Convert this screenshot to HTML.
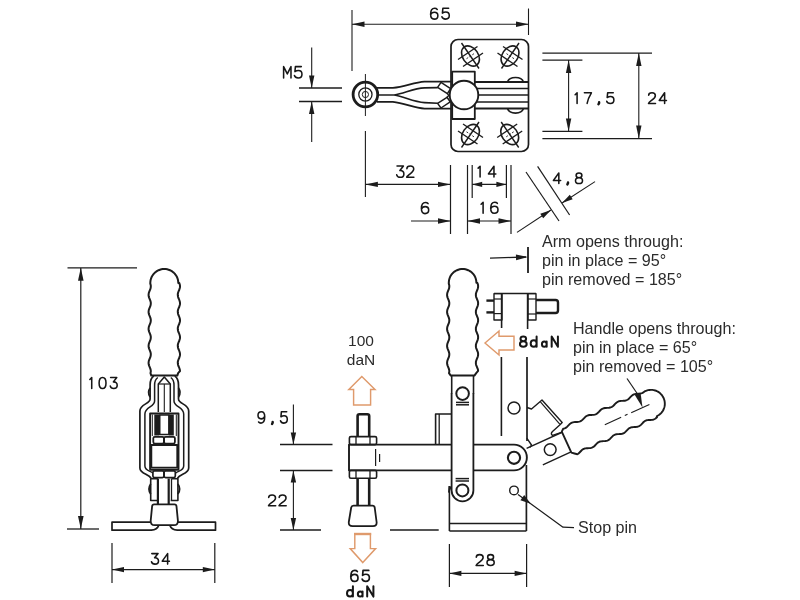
<!DOCTYPE html>
<html><head><meta charset="utf-8"><title>Clamp drawing</title>
<style>
html,body{margin:0;padding:0;background:#fff;}
body{width:800px;height:600px;overflow:hidden;position:relative;font-family:"Liberation Sans",sans-serif;}
svg{position:absolute;left:0;top:0;display:block;filter:blur(0.45px);}
svg g.or path,svg g.or line{stroke:#df9a6c;stroke-linejoin:miter;}
svg text{font-family:"Liberation Sans",sans-serif;fill:#222;stroke:none;}
svg path.pt{stroke:#161616;stroke-linecap:round;stroke-linejoin:round;fill:none;}
.note{position:absolute;font-family:"Liberation Sans",sans-serif;font-size:16.1px;line-height:19px;color:#2b2b2b;white-space:nowrap;letter-spacing:0px;will-change:transform;}
</style></head><body>
<svg width="800" height="600" viewBox="0 0 800 600" fill="none" stroke="#1c1c1c" stroke-linecap="butt" stroke-linejoin="round">
<g id="top">
<line x1="352.0" y1="10.0" x2="352.0" y2="71.0" stroke-width="1.1" />
<line x1="528.5" y1="8.5" x2="528.5" y2="35.0" stroke-width="1.1" />
<line x1="352.0" y1="24.2" x2="528.5" y2="24.2" stroke-width="1.1" />
<polygon points="352.0,24.2 364.5,21.5 364.5,26.9" fill="#1c1c1c" stroke="none"/>
<polygon points="528.5,24.2 516.0,26.9 516.0,21.5" fill="#1c1c1c" stroke="none"/>
<path class="pt" d="M437.24 9.38C436.60 8.62 435.64 8.30 434.68 8.30C431.80 8.30 430.60 10.89 430.60 14.24C430.60 17.26 431.80 19.10 434.20 19.10C436.44 19.10 437.88 17.70 437.88 15.64C437.88 13.59 436.44 12.30 434.36 12.30C432.44 12.30 431.16 13.27 430.60 14.78 M448.64 8.30L442.88 8.30L442.40 13.16C443.52 12.40 444.64 12.08 445.76 12.08C448.00 12.08 449.28 13.48 449.28 15.54C449.28 17.70 447.84 19.10 445.60 19.10C443.60 19.10 442.32 18.13 441.92 16.83" stroke-width="1.55"/>
<line x1="311.7" y1="47.5" x2="311.7" y2="88.0" stroke-width="1.1" />
<polygon points="311.7,88.0 309.0,75.5 314.4,75.5" fill="#1c1c1c" stroke="none"/>
<line x1="311.7" y1="101.5" x2="311.7" y2="142.0" stroke-width="1.1" />
<polygon points="311.7,101.5 314.4,114.0 309.0,114.0" fill="#1c1c1c" stroke="none"/>
<line x1="299.0" y1="88.0" x2="342.0" y2="88.0" stroke-width="1.3" />
<line x1="299.0" y1="101.5" x2="342.0" y2="101.5" stroke-width="1.3" />
<path class="pt" d="M283.61 77.90L283.61 66.60L287.30 73.95L290.99 66.60L290.99 77.90 M301.32 66.60L295.41 66.60L294.92 71.69C296.07 70.89 297.22 70.56 298.36 70.56C300.66 70.56 301.97 72.02 301.97 74.17C301.97 76.43 300.50 77.90 298.20 77.90C296.15 77.90 294.84 76.88 294.43 75.53" stroke-width="1.55"/>
<circle cx="365.4" cy="94.5" r="12.3" stroke-width="2.8" fill="none"/>
<circle cx="365.4" cy="94.5" r="6.6" stroke-width="1.3" fill="none"/>
<circle cx="365.4" cy="94.5" r="3.1" stroke-width="1.0" fill="none"/>
<line x1="365.4" y1="74.0" x2="365.4" y2="116.0" stroke-width="1.0" />
<line x1="365.4" y1="131.0" x2="365.4" y2="197.0" stroke-width="1.1" />
<path d="M377,87.9 L392.9,87.9 C405,86.8 414,82.2 424.5,81.6 L451.3,81.6" stroke-width="1.7" fill="none" />
<path d="M377,101.9 L392.9,101.9 C405,103.2 414,108 424.5,108.6 L451.3,108.6" stroke-width="1.9" fill="none" />
<line x1="377.0" y1="95.0" x2="394.3" y2="95.0" stroke-width="1.5" />
<path d="M394.3,95 C405,93 414,88.3 424.5,87.9 L437.6,87.6" stroke-width="1.6" fill="none" />
<path d="M394.3,95 C405,97 414,102.2 424.5,102.6 L437.6,103.2" stroke-width="1.6" fill="none" />
<path d="M437.6,87.4 L441,82.4 L450.6,88.6 L447.4,93.6 Z" stroke-width="1.5" fill="none" />
<path d="M437.6,103.4 L441,108 L450.2,101.8 L447,97.3 Z" stroke-width="1.5" fill="none" />
<path d="M447.4,93.6 L448.8,95.4 L447,97.3" stroke-width="1.4" fill="none" />
<rect x="451.0" y="39.5" width="77.5" height="112.0" rx="7" stroke-width="1.7" fill="none"/>
<rect x="452.2" y="71.6" width="22.6" height="47.4" rx="0" stroke-width="1.8" fill="none"/>
<line x1="474.0" y1="82.0" x2="528.0" y2="82.0" stroke-width="2.0" />
<line x1="474.0" y1="88.5" x2="528.0" y2="88.5" stroke-width="1.7" />
<line x1="474.0" y1="95.0" x2="528.0" y2="95.0" stroke-width="1.7" />
<line x1="474.0" y1="102.0" x2="528.0" y2="102.0" stroke-width="1.7" />
<line x1="474.0" y1="108.6" x2="528.0" y2="108.6" stroke-width="2.0" />
<path d="M507.5,82 C509.5,76 521.5,76 523.5,82" stroke-width="1.6" fill="none" />
<path d="M507.5,108.6 C509.5,114.6 521.5,114.6 523.5,108.6" stroke-width="1.6" fill="none" />
<circle cx="464.0" cy="95.0" r="14.3" stroke-width="1.9" fill="#fff"/>
<g transform="translate(470.5,56) scale(1,1)">
<ellipse cx="0" cy="0" rx="11" ry="7.8" transform="rotate(55.5)" stroke-width="1.6" fill="none"/>
<line x1="-9.0" y1="-13.0" x2="8.5" y2="12.5" stroke-width="1.4" />
<line x1="-12.5" y1="3.5" x2="7.0" y2="-9.5" stroke-width="1.4" />
<line x1="-7.5" y1="10.5" x2="12.5" y2="-3.0" stroke-width="1.4" />
<line x1="-4.0" y1="2.7" x2="4.5" y2="-3.0" stroke-width="0.9" stroke-dasharray="2 1.5"/>
</g>
<g transform="translate(510,56) scale(-1,1)">
<ellipse cx="0" cy="0" rx="11" ry="7.8" transform="rotate(55.5)" stroke-width="1.6" fill="none"/>
<line x1="-9.0" y1="-13.0" x2="8.5" y2="12.5" stroke-width="1.4" />
<line x1="-12.5" y1="3.5" x2="7.0" y2="-9.5" stroke-width="1.4" />
<line x1="-7.5" y1="10.5" x2="12.5" y2="-3.0" stroke-width="1.4" />
<line x1="-4.0" y1="2.7" x2="4.5" y2="-3.0" stroke-width="0.9" stroke-dasharray="2 1.5"/>
</g>
<g transform="translate(470.5,134.5) scale(1,-1)">
<ellipse cx="0" cy="0" rx="11" ry="7.8" transform="rotate(55.5)" stroke-width="1.6" fill="none"/>
<line x1="-9.0" y1="-13.0" x2="8.5" y2="12.5" stroke-width="1.4" />
<line x1="-12.5" y1="3.5" x2="7.0" y2="-9.5" stroke-width="1.4" />
<line x1="-7.5" y1="10.5" x2="12.5" y2="-3.0" stroke-width="1.4" />
<line x1="-4.0" y1="2.7" x2="4.5" y2="-3.0" stroke-width="0.9" stroke-dasharray="2 1.5"/>
</g>
<g transform="translate(509.7,134.5) scale(-1,-1)">
<ellipse cx="0" cy="0" rx="11" ry="7.8" transform="rotate(55.5)" stroke-width="1.6" fill="none"/>
<line x1="-9.0" y1="-13.0" x2="8.5" y2="12.5" stroke-width="1.4" />
<line x1="-12.5" y1="3.5" x2="7.0" y2="-9.5" stroke-width="1.4" />
<line x1="-7.5" y1="10.5" x2="12.5" y2="-3.0" stroke-width="1.4" />
<line x1="-4.0" y1="2.7" x2="4.5" y2="-3.0" stroke-width="0.9" stroke-dasharray="2 1.5"/>
</g>
<line x1="542.4" y1="53.2" x2="652.0" y2="53.2" stroke-width="1.3" />
<line x1="542.4" y1="138.6" x2="652.0" y2="138.6" stroke-width="1.2" />
<line x1="542.4" y1="60.2" x2="582.4" y2="60.2" stroke-width="1.3" />
<line x1="542.4" y1="131.4" x2="582.4" y2="131.4" stroke-width="1.2" />
<line x1="568.6" y1="60.0" x2="568.6" y2="131.4" stroke-width="1.1" />
<polygon points="568.6,60.0 571.3,73.0 565.9,73.0" fill="#1c1c1c" stroke="none"/>
<polygon points="568.6,131.4 565.9,118.4 571.3,118.4" fill="#1c1c1c" stroke="none"/>
<line x1="638.8" y1="53.0" x2="638.8" y2="138.6" stroke-width="1.1" />
<polygon points="638.8,53.0 641.5,66.0 636.1,66.0" fill="#1c1c1c" stroke="none"/>
<polygon points="638.8,138.6 636.1,125.6 641.5,125.6" fill="#1c1c1c" stroke="none"/>
<path class="pt" d="M575.14 94.71L577.09 92.80L577.09 103.40 M584.39 92.80L591.41 92.80C589.46 95.98 587.74 99.69 587.12 103.40 M613.26 92.80L607.65 92.80L607.18 97.57C608.27 96.83 609.36 96.51 610.46 96.51C612.64 96.51 613.89 97.89 613.89 99.90C613.89 102.02 612.48 103.40 610.30 103.40C608.35 103.40 607.10 102.45 606.71 101.17" stroke-width="1.55"/>
<path class="pt" d="M599.10 102.34L599.10 103.08L598.48 104.25" stroke-width="2.45"/>
<path class="pt" d="M648.66 95.34C648.66 93.65 650.02 92.80 652.00 92.80C654.13 92.80 655.34 93.86 655.34 95.66C655.34 97.46 653.82 98.63 651.85 100.11C650.02 101.49 648.81 102.34 648.50 103.40L655.50 103.40 M664.62 103.40L664.62 92.80L659.23 100.43L666.45 100.43" stroke-width="1.55"/>
<line x1="365.4" y1="184.4" x2="450.5" y2="184.4" stroke-width="1.1" />
<polygon points="365.4,184.4 377.9,181.7 377.9,187.1" fill="#1c1c1c" stroke="none"/>
<polygon points="450.5,184.4 438.0,187.1 438.0,181.7" fill="#1c1c1c" stroke="none"/>
<line x1="450.5" y1="165.0" x2="450.5" y2="234.0" stroke-width="1.2" />
<line x1="467.5" y1="165.0" x2="467.5" y2="234.0" stroke-width="1.2" />
<line x1="472.2" y1="165.0" x2="472.2" y2="198.0" stroke-width="1.2" />
<line x1="506.4" y1="165.0" x2="506.4" y2="198.0" stroke-width="1.2" />
<line x1="511.0" y1="165.0" x2="511.0" y2="234.0" stroke-width="1.2" />
<line x1="472.2" y1="184.4" x2="506.4" y2="184.4" stroke-width="1.1" />
<polygon points="472.2,184.4 482.2,181.7 482.2,187.1" fill="#1c1c1c" stroke="none"/>
<polygon points="506.4,184.4 496.4,187.1 496.4,181.7" fill="#1c1c1c" stroke="none"/>
<line x1="467.5" y1="221.0" x2="511.0" y2="221.0" stroke-width="1.1" />
<polygon points="467.5,221.0 480.0,218.3 480.0,223.7" fill="#1c1c1c" stroke="none"/>
<polygon points="511.0,221.0 498.5,223.7 498.5,218.3" fill="#1c1c1c" stroke="none"/>
<line x1="411.0" y1="221.0" x2="450.5" y2="221.0" stroke-width="1.1" />
<polygon points="450.5,221.0 438.0,223.7 438.0,218.3" fill="#1c1c1c" stroke="none"/>
<path class="pt" d="M397.02 166.00L403.42 166.00L399.91 170.52C402.48 170.29 403.89 171.88 403.89 173.91C403.89 176.06 402.48 177.30 400.30 177.30C398.27 177.30 397.02 176.28 396.71 174.81 M406.87 168.71C406.87 166.90 408.27 166.00 410.30 166.00C412.48 166.00 413.73 167.13 413.73 169.05C413.73 170.97 412.17 172.22 410.14 173.80C408.27 175.27 407.02 176.17 406.71 177.30L413.89 177.30" stroke-width="1.55"/>
<path class="pt" d="M428.04 203.61C427.40 202.83 426.44 202.50 425.48 202.50C422.60 202.50 421.40 205.16 421.40 208.60C421.40 211.71 422.60 213.60 425.00 213.60C427.24 213.60 428.68 212.16 428.68 210.05C428.68 207.94 427.24 206.61 425.16 206.61C423.24 206.61 421.96 207.61 421.40 209.16" stroke-width="1.55"/>
<path class="pt" d="M478.14 168.13L480.09 166.20L480.09 176.90 M493.97 176.90L493.97 166.20L488.43 173.90L495.84 173.90" stroke-width="1.55"/>
<path class="pt" d="M481.10 204.20L483.10 202.20L483.10 213.30 M497.34 203.31C496.70 202.53 495.74 202.20 494.78 202.20C491.90 202.20 490.70 204.86 490.70 208.31C490.70 211.41 491.90 213.30 494.30 213.30C496.54 213.30 497.98 211.86 497.98 209.75C497.98 207.64 496.54 206.31 494.46 206.31C492.54 206.31 491.26 207.31 490.70 208.86" stroke-width="1.55"/>
<line x1="526.0" y1="172.0" x2="559.0" y2="221.0" stroke-width="1.2" />
<line x1="537.6" y1="166.4" x2="569.6" y2="215.0" stroke-width="1.2" />
<line x1="517.0" y1="232.4" x2="551.0" y2="210.0" stroke-width="1.1" />
<polygon points="551.0,210.0 543.2,218.3 540.3,213.7" fill="#1c1c1c" stroke="none"/>
<line x1="595.0" y1="181.6" x2="562.0" y2="203.0" stroke-width="1.1" />
<polygon points="562.0,203.0 569.8,194.7 572.7,199.3" fill="#1c1c1c" stroke="none"/>
<path class="pt" d="M558.82 183.50L558.82 172.90L553.43 180.53L560.65 180.53 M579.00 177.78C577.10 177.78 576.11 176.82 576.11 175.34C576.11 173.85 577.25 172.90 579.00 172.90C580.75 172.90 581.89 173.85 581.89 175.34C581.89 176.82 580.90 177.78 579.00 177.78C576.72 177.78 575.50 178.94 575.50 180.64C575.50 182.44 576.72 183.50 579.00 183.50C581.28 183.50 582.50 182.44 582.50 180.64C582.50 178.94 581.28 177.78 579.00 177.78Z" stroke-width="1.55"/>
<path class="pt" d="M568.00 182.44L568.00 183.18L567.39 184.35" stroke-width="2.45"/>
</g>
<g id="side">
<line x1="528.0" y1="247.0" x2="528.0" y2="273.0" stroke-width="1.8" />
<path d="M490,258.2 Q508,257.6 526,257" stroke-width="1.3" fill="none" />
<polygon points="528.0,257.0 516.1,260.2 515.9,254.6" fill="#1c1c1c" stroke="none"/>
<g transform="translate(462.6,393.6)">
<path d="M-11.8,-18.0 L-13.6,-20.5 L-13.3,-22.0 L-13.3,-23.0 L-13.5,-24.0 L-13.8,-25.0 L-14.2,-26.0 L-14.6,-27.0 L-15.0,-28.0 L-15.3,-29.0 L-15.5,-30.0 L-15.5,-31.0 L-15.4,-32.0 L-15.2,-33.0 L-14.8,-34.0 L-14.4,-35.0 L-14.0,-36.0 L-13.6,-37.0 L-13.4,-38.0 L-13.3,-39.0 L-13.3,-40.0 L-13.5,-41.0 L-13.8,-42.0 L-14.2,-43.0 L-14.6,-44.0 L-15.0,-45.0 L-15.3,-46.0 L-15.5,-47.0 L-15.5,-48.0 L-15.4,-49.0 L-15.2,-50.0 L-14.8,-51.0 L-14.4,-52.0 L-14.0,-53.0 L-13.6,-54.0 L-13.4,-55.0 L-13.3,-56.0 L-13.3,-57.0 L-13.5,-58.0 L-13.8,-59.0 L-14.2,-60.0 L-14.6,-61.0 L-15.0,-62.0 L-15.3,-63.0 L-15.5,-64.0 L-15.5,-65.0 L-15.4,-66.0 L-15.2,-67.0 L-14.8,-68.0 L-14.4,-69.0 L-14.0,-70.0 L-13.6,-71.0 L-13.4,-72.0 L-13.3,-73.0 L-13.3,-74.0 L-13.5,-75.0 L-13.8,-76.0 L-14.2,-77.0 L-14.6,-78.0 L-15.0,-79.0 L-15.3,-80.0 L-15.5,-81.0 L-15.5,-82.0 L-15.4,-83.0 L-15.2,-84.0 L-14.8,-85.0 L-14.4,-86.0 L-14.0,-87.0 L-13.6,-88.0 L-13.4,-89.0 L-13.3,-90.0 L-13.3,-91.0 L-13.5,-92.0 L-13.8,-93.0 L-14.2,-94.0 L-14.6,-95.0 L-15.0,-96.0 L-15.3,-97.0 L-15.5,-98.0 L-15.5,-99.0 L-15.4,-100.0 L-15.2,-101.0 L-14.8,-102.0 L-14.4,-103.0 L-14.0,-104.0 L-13.6,-105.0 L-13.4,-106.0 L-13.3,-107.0 L-13.3,-108.0 L-13.5,-109.0 L-13.8,-110.0 L-13.8,-110.8 L-13.7,-112.2 L-13.5,-113.7 L-13.1,-115.1 L-12.6,-116.4 L-12.0,-117.7 L-11.2,-118.9 L-10.3,-120.0 L-9.2,-121.1 L-8.1,-122.0 L-6.9,-122.8 L-5.6,-123.4 L-4.3,-123.9 L-2.9,-124.3 L-1.4,-124.5 L0.0,-124.6 L1.4,-124.5 L2.9,-124.3 L4.3,-123.9 L5.6,-123.4 L6.9,-122.8 L8.1,-122.0 L9.2,-121.1 L10.3,-120.0 L11.2,-118.9 L12.0,-117.7 L12.6,-116.4 L13.1,-115.1 L13.5,-113.7 L13.7,-112.2 L13.8,-110.8 L14.7,-110.8 L15.1,-109.8 L15.4,-108.8 L15.5,-107.8 L15.5,-106.8 L15.4,-105.8 L15.1,-104.8 L14.7,-103.8 L14.3,-102.8 L13.9,-101.8 L13.6,-100.8 L13.3,-99.8 L13.3,-98.8 L13.3,-97.8 L13.5,-96.8 L13.9,-95.8 L14.3,-94.8 L14.7,-93.8 L15.1,-92.8 L15.4,-91.8 L15.5,-90.8 L15.5,-89.8 L15.4,-88.8 L15.1,-87.8 L14.7,-86.8 L14.3,-85.8 L13.9,-84.8 L13.6,-83.8 L13.3,-82.8 L13.3,-81.8 L13.3,-80.8 L13.5,-79.8 L13.9,-78.8 L14.3,-77.8 L14.7,-76.8 L15.1,-75.8 L15.4,-74.8 L15.5,-73.8 L15.5,-72.8 L15.4,-71.8 L15.1,-70.8 L14.7,-69.8 L14.3,-68.8 L13.9,-67.8 L13.6,-66.8 L13.3,-65.8 L13.3,-64.8 L13.3,-63.8 L13.5,-62.8 L13.9,-61.8 L14.3,-60.8 L14.7,-59.8 L15.1,-58.8 L15.4,-57.8 L15.5,-56.8 L15.5,-55.8 L15.4,-54.8 L15.1,-53.8 L14.7,-52.8 L14.3,-51.8 L13.9,-50.8 L13.6,-49.8 L13.3,-48.8 L13.3,-47.8 L13.3,-46.8 L13.5,-45.8 L13.9,-44.8 L14.3,-43.8 L14.7,-42.8 L15.1,-41.8 L15.4,-40.8 L15.5,-39.8 L15.5,-38.8 L15.4,-37.8 L15.1,-36.8 L14.7,-35.8 L14.3,-34.8 L13.9,-33.8 L13.6,-32.8 L13.3,-31.8 L13.3,-30.8 L13.3,-29.8 L13.5,-28.8 L13.9,-27.8 L14.3,-26.8 L14.7,-25.8 L15.1,-24.8 L15.4,-23.8 L15.5,-22.8 L13.6,-20.5 L11.8,-18.0 Z" stroke-width="2.0" fill="none" />
<line x1="-10.9" y1="-18.0" x2="-10.9" y2="0.0" stroke-width="1.6" />
<line x1="10.9" y1="-18.0" x2="10.9" y2="0.0" stroke-width="1.6" />
</g>
<line x1="494.0" y1="293.6" x2="536.0" y2="293.6" stroke-width="1.5" />
<rect x="494.0" y="293.6" width="8.0" height="26.4" rx="0" stroke-width="1.4" fill="none"/>
<line x1="494.0" y1="299.0" x2="502.0" y2="299.0" stroke-width="1.2" />
<line x1="494.0" y1="313.6" x2="502.0" y2="313.6" stroke-width="1.2" />
<line x1="486.4" y1="300.6" x2="494.0" y2="300.6" stroke-width="2.4" />
<line x1="486.4" y1="312.4" x2="494.0" y2="312.4" stroke-width="2.4" />
<rect x="528.0" y="293.6" width="8.0" height="26.4" rx="0" stroke-width="1.4" fill="none"/>
<line x1="528.0" y1="299.0" x2="536.0" y2="299.0" stroke-width="1.2" />
<line x1="528.0" y1="314.0" x2="536.0" y2="314.0" stroke-width="1.2" />
<path d="M536,300 L555.5,300 Q558,300 558,302.5 L558,310.5 Q558,313 555.5,313 L536,313" stroke-width="2.4" fill="none" />
<line x1="501.6" y1="293.6" x2="501.6" y2="328.0" stroke-width="1.6" />
<line x1="501.4" y1="357.0" x2="501.4" y2="436.0" stroke-width="1.6" />
<line x1="527.6" y1="293.6" x2="527.6" y2="329.0" stroke-width="1.6" />
<line x1="527.0" y1="357.0" x2="527.0" y2="441.0" stroke-width="1.7" />
<circle cx="514.0" cy="408.0" r="6" stroke-width="1.5" fill="none"/>
<path d="M349,444.6 L514,444.6 A12.9,12.9 0 0 1 514,470.4 L349,470.4 Z" stroke-width="1.9" fill="none" />
<circle cx="514.0" cy="457.8" r="6.1" stroke-width="2.1" fill="none"/>
<rect x="451.6" y="440" width="21.8" height="36" fill="#fff" stroke="none"/>
<path d="M451.6,393 L451.6,490.4 A10.9,10.9 0 0 0 473.4,490.4 L473.4,393" stroke-width="1.8" fill="none" />
<circle cx="462.6" cy="393.6" r="6.3" stroke-width="2.0" fill="none"/>
<line x1="456.0" y1="402.4" x2="469.0" y2="402.4" stroke-width="1.5" />
<line x1="456.0" y1="404.8" x2="469.0" y2="404.8" stroke-width="1.5" />
<circle cx="462.4" cy="490.4" r="6.0" stroke-width="2.0" fill="none"/>
<line x1="455.6" y1="478.6" x2="469.0" y2="478.6" stroke-width="1.5" />
<line x1="455.6" y1="481.0" x2="469.0" y2="481.0" stroke-width="1.5" />
<path d="M449.4,486 L448.8,492 L451,486.5" stroke-width="1.5" fill="none" />
<path d="M452,414 L435.6,414 L435.6,444.6" stroke-width="1.6" fill="none" />
<line x1="439.2" y1="414.0" x2="439.2" y2="444.6" stroke-width="1.3" />
<line x1="449.4" y1="486.0" x2="449.4" y2="531.0" stroke-width="1.6" />
<line x1="526.4" y1="465.0" x2="526.4" y2="531.0" stroke-width="1.7" />
<line x1="449.4" y1="523.6" x2="526.4" y2="523.6" stroke-width="1.5" />
<line x1="449.4" y1="531.0" x2="526.4" y2="531.0" stroke-width="1.6" />
<circle cx="514.0" cy="490.4" r="4.3" stroke-width="1.4" fill="none"/>
<path d="M518,494.5 L529,502.5 L563,527.2 L574,527.6" stroke-width="1.2" fill="none" />
<polygon points="530.8,503.8 520.4,500.3 524.2,495.0" fill="#1c1c1c" stroke="none"/>
<path d="M357.6,436 L357.6,416 Q357.6,414.2 359.4,414.2 L367.4,414.2 Q369.2,414.2 369.2,416 L369.2,436" stroke-width="2.6" fill="none" />
<rect x="349.4" y="436.6" width="27.2" height="8.0" rx="1.5" stroke-width="1.6" fill="none"/>
<line x1="356.0" y1="436.6" x2="356.0" y2="444.6" stroke-width="1.3" />
<line x1="370.0" y1="436.6" x2="370.0" y2="444.6" stroke-width="1.3" />
<rect x="349.4" y="470.4" width="27.2" height="7.8" rx="1.5" stroke-width="1.6" fill="none"/>
<line x1="356.0" y1="470.4" x2="356.0" y2="478.2" stroke-width="1.3" />
<line x1="370.0" y1="470.4" x2="370.0" y2="478.2" stroke-width="1.3" />
<line x1="357.6" y1="478.2" x2="357.6" y2="505.5" stroke-width="2.6" />
<line x1="369.2" y1="478.2" x2="369.2" y2="505.5" stroke-width="2.6" />
<path d="M353.6,505.6 L372.4,505.6 Q374.4,505.6 374.7,507.5 L376.6,522 Q377,526.2 373,526.2 L352.6,526.2 Q348.4,526.2 348.8,522 L351.2,507.5 Q351.6,505.6 353.6,505.6 Z" stroke-width="1.8" fill="none" />
<line x1="375.6" y1="449.0" x2="375.6" y2="466.0" stroke-width="1.2" />
<line x1="379.6" y1="454.0" x2="379.6" y2="462.0" stroke-width="1.2" />
<line x1="280.0" y1="444.5" x2="332.5" y2="444.5" stroke-width="1.3" />
<line x1="280.0" y1="470.5" x2="332.5" y2="470.5" stroke-width="1.3" />
<line x1="293.4" y1="404.4" x2="293.4" y2="444.5" stroke-width="1.1" />
<polygon points="293.4,444.5 290.7,432.5 296.1,432.5" fill="#1c1c1c" stroke="none"/>
<line x1="293.4" y1="470.5" x2="293.4" y2="530.0" stroke-width="1.1" />
<polygon points="293.4,470.5 296.1,482.5 290.7,482.5" fill="#1c1c1c" stroke="none"/>
<polygon points="293.4,530.0 290.7,518.0 296.1,518.0" fill="#1c1c1c" stroke="none"/>
<line x1="280.0" y1="530.0" x2="321.0" y2="530.0" stroke-width="1.3" />
<line x1="390.0" y1="530.0" x2="438.7" y2="530.0" stroke-width="1.3" />
<path class="pt" d="M258.59 421.96C259.18 422.76 260.07 423.10 260.96 423.10C263.62 423.10 264.73 420.36 264.73 416.83C264.73 413.64 263.62 411.70 261.40 411.70C259.33 411.70 258.00 413.18 258.00 415.35C258.00 417.51 259.33 418.88 261.25 418.88C263.03 418.88 264.21 417.86 264.73 416.26 M286.71 411.70L281.38 411.70L280.94 416.83C281.98 416.03 283.01 415.69 284.05 415.69C286.12 415.69 287.30 417.17 287.30 419.34C287.30 421.62 285.97 423.10 283.90 423.10C282.05 423.10 280.87 422.07 280.50 420.71" stroke-width="1.55"/>
<path class="pt" d="M272.65 421.96L272.65 422.76L272.06 424.01" stroke-width="2.45"/>
<path class="pt" d="M268.67 497.57C268.67 495.86 270.07 495.00 272.10 495.00C274.28 495.00 275.53 496.07 275.53 497.89C275.53 499.71 273.97 500.88 271.94 502.38C270.07 503.77 268.82 504.63 268.51 505.70L275.69 505.70 M279.17 497.57C279.17 495.86 280.57 495.00 282.60 495.00C284.78 495.00 286.03 496.07 286.03 497.89C286.03 499.71 284.47 500.88 282.44 502.38C280.57 503.77 279.32 504.63 279.01 505.70L286.19 505.70" stroke-width="1.55"/>
<line x1="449.4" y1="544.0" x2="449.4" y2="587.0" stroke-width="1.2" />
<line x1="526.6" y1="544.0" x2="526.6" y2="587.0" stroke-width="1.2" />
<line x1="449.4" y1="573.4" x2="526.6" y2="573.4" stroke-width="1.1" />
<polygon points="449.4,573.4 461.4,570.7 461.4,576.1" fill="#1c1c1c" stroke="none"/>
<polygon points="526.6,573.4 514.6,576.1 514.6,570.7" fill="#1c1c1c" stroke="none"/>
<path class="pt" d="M476.27 557.22C476.27 555.47 477.67 554.60 479.70 554.60C481.88 554.60 483.13 555.69 483.13 557.54C483.13 559.40 481.57 560.60 479.54 562.12C477.67 563.54 476.42 564.41 476.11 565.50L483.29 565.50 M490.60 559.61C488.65 559.61 487.64 558.63 487.64 557.11C487.64 555.58 488.81 554.60 490.60 554.60C492.39 554.60 493.56 555.58 493.56 557.11C493.56 558.63 492.55 559.61 490.60 559.61C488.26 559.61 487.01 560.81 487.01 562.56C487.01 564.41 488.26 565.50 490.60 565.50C492.94 565.50 494.19 564.41 494.19 562.56C494.19 560.81 492.94 559.61 490.60 559.61Z" stroke-width="1.55"/>
<path d="M527,407.5 L531.5,409 L542,400 L562.2,422.5 L560,424.8 L552.5,431.5 Q550.2,433.8 552.5,435.4 L561.5,432.4" stroke-width="1.4" fill="none" />
<line x1="540.4" y1="401.8" x2="560.0" y2="424.4" stroke-width="1.2" />
<path d="M526.8,438.2 L531.5,445 L530,447.4" stroke-width="1.4" fill="none" />
<g transform="translate(550.2,449.6) rotate(65.5)">
<line x1="-10.8" y1="-35.0" x2="-10.8" y2="21.0" stroke-width="1.4" />
<line x1="10.8" y1="-21.0" x2="10.8" y2="13.0" stroke-width="1.4" />
<path d="M-11.6,-18.0 L-13.6,-20.5 L-13.3,-22.0 L-13.3,-23.0 L-13.5,-24.0 L-13.8,-25.0 L-14.2,-26.0 L-14.6,-27.0 L-15.0,-28.0 L-15.3,-29.0 L-15.5,-30.0 L-15.5,-31.0 L-15.4,-32.0 L-15.2,-33.0 L-14.8,-34.0 L-14.4,-35.0 L-14.0,-36.0 L-13.6,-37.0 L-13.4,-38.0 L-13.3,-39.0 L-13.3,-40.0 L-13.5,-41.0 L-13.8,-42.0 L-14.2,-43.0 L-14.6,-44.0 L-15.0,-45.0 L-15.3,-46.0 L-15.5,-47.0 L-15.5,-48.0 L-15.4,-49.0 L-15.2,-50.0 L-14.8,-51.0 L-14.4,-52.0 L-14.0,-53.0 L-13.6,-54.0 L-13.4,-55.0 L-13.3,-56.0 L-13.3,-57.0 L-13.5,-58.0 L-13.8,-59.0 L-14.2,-60.0 L-14.6,-61.0 L-15.0,-62.0 L-15.3,-63.0 L-15.5,-64.0 L-15.5,-65.0 L-15.4,-66.0 L-15.2,-67.0 L-14.8,-68.0 L-14.4,-69.0 L-14.0,-70.0 L-13.6,-71.0 L-13.4,-72.0 L-13.3,-73.0 L-13.3,-74.0 L-13.5,-75.0 L-13.8,-76.0 L-14.2,-77.0 L-14.6,-78.0 L-15.0,-79.0 L-15.3,-80.0 L-15.5,-81.0 L-15.5,-82.0 L-15.4,-83.0 L-15.2,-84.0 L-14.8,-85.0 L-14.4,-86.0 L-14.0,-87.0 L-13.6,-88.0 L-13.4,-89.0 L-13.3,-90.0 L-13.3,-91.0 L-13.5,-92.0 L-13.8,-93.0 L-14.2,-94.0 L-14.6,-95.0 L-15.0,-96.0 L-15.3,-97.0 L-15.5,-98.0 L-15.5,-99.0 L-15.4,-100.0 L-15.2,-101.0 L-14.8,-102.0 L-14.4,-103.0 L-14.0,-104.0 L-13.6,-105.0 L-13.4,-106.0 L-13.3,-107.0 L-13.3,-108.0 L-13.5,-109.0 L-13.8,-110.0 L-13.8,-110.8 L-13.7,-112.2 L-13.5,-113.7 L-13.1,-115.1 L-12.6,-116.4 L-12.0,-117.7 L-11.2,-118.9 L-10.3,-120.0 L-9.2,-121.1 L-8.1,-122.0 L-6.9,-122.8 L-5.6,-123.4 L-4.3,-123.9 L-2.9,-124.3 L-1.4,-124.5 L0.0,-124.6 L1.4,-124.5 L2.9,-124.3 L4.3,-123.9 L5.6,-123.4 L6.9,-122.8 L8.1,-122.0 L9.2,-121.1 L10.3,-120.0 L11.2,-118.9 L12.0,-117.7 L12.6,-116.4 L13.1,-115.1 L13.5,-113.7 L13.7,-112.2 L13.8,-110.8 L14.7,-110.8 L15.1,-109.8 L15.4,-108.8 L15.5,-107.8 L15.5,-106.8 L15.4,-105.8 L15.1,-104.8 L14.7,-103.8 L14.3,-102.8 L13.9,-101.8 L13.6,-100.8 L13.3,-99.8 L13.3,-98.8 L13.3,-97.8 L13.5,-96.8 L13.9,-95.8 L14.3,-94.8 L14.7,-93.8 L15.1,-92.8 L15.4,-91.8 L15.5,-90.8 L15.5,-89.8 L15.4,-88.8 L15.1,-87.8 L14.7,-86.8 L14.3,-85.8 L13.9,-84.8 L13.6,-83.8 L13.3,-82.8 L13.3,-81.8 L13.3,-80.8 L13.5,-79.8 L13.9,-78.8 L14.3,-77.8 L14.7,-76.8 L15.1,-75.8 L15.4,-74.8 L15.5,-73.8 L15.5,-72.8 L15.4,-71.8 L15.1,-70.8 L14.7,-69.8 L14.3,-68.8 L13.9,-67.8 L13.6,-66.8 L13.3,-65.8 L13.3,-64.8 L13.3,-63.8 L13.5,-62.8 L13.9,-61.8 L14.3,-60.8 L14.7,-59.8 L15.1,-58.8 L15.4,-57.8 L15.5,-56.8 L15.5,-55.8 L15.4,-54.8 L15.1,-53.8 L14.7,-52.8 L14.3,-51.8 L13.9,-50.8 L13.6,-49.8 L13.3,-48.8 L13.3,-47.8 L13.3,-46.8 L13.5,-45.8 L13.9,-44.8 L14.3,-43.8 L14.7,-42.8 L15.1,-41.8 L15.4,-40.8 L15.5,-39.8 L15.5,-38.8 L15.4,-37.8 L15.1,-36.8 L14.7,-35.8 L14.3,-34.8 L13.9,-33.8 L13.6,-32.8 L13.3,-31.8 L13.3,-30.8 L13.3,-29.8 L13.5,-28.8 L13.9,-27.8 L14.3,-26.8 L14.7,-25.8 L15.1,-24.8 L15.4,-23.8 L15.5,-22.8 L13.6,-20.5 L11.6,-18.0 Z" stroke-width="1.9" fill="#fff"/>
<line x1="0.0" y1="-60.0" x2="0.0" y2="-78.0" stroke-width="1.1" />
<line x1="0.0" y1="-82.0" x2="0.0" y2="-85.0" stroke-width="1.1" />
<line x1="0.0" y1="-89.0" x2="0.0" y2="-109.0" stroke-width="1.1" />
</g>
<circle cx="550.2" cy="449.6" r="5.9" stroke-width="1.5" fill="none"/>
<line x1="627.0" y1="378.5" x2="637.5" y2="394.0" stroke-width="1.2" />
<polygon points="642.5,407.5 634.5,394.5 640.5,392.5" fill="#1c1c1c" stroke="none"/>
</g>
<g class="or" fill="none" stroke-width="1.45">
<path d="M485,343 L499,331 L499,336.2 L514,336.2 L514,350 L499,350 L499,355 Z"/>
<path d="M361.8,376.4 L375,389.4 L370.6,389.4 L370.6,405 L353.6,405 L353.6,389.4 L348.8,389.4 Z"/>
<path d="M362.8,562.6 L375.6,548.6 L370.4,548.6 L370.4,534 L354.8,534 L354.8,548.6 L350.2,548.6 Z"/>
</g>
<g class="or"><line x1="354" y1="534" x2="371.2" y2="534" stroke-width="2.4"/></g>
<g id="left">
<line x1="67.5" y1="267.8" x2="137.0" y2="267.8" stroke-width="1.3" />
<line x1="67.0" y1="529.0" x2="99.0" y2="529.0" stroke-width="1.3" />
<line x1="80.8" y1="268.0" x2="80.8" y2="529.0" stroke-width="1.2" />
<polygon points="80.8,267.8 83.6,280.8 78.0,280.8" fill="#1c1c1c" stroke="none"/>
<polygon points="80.8,529.0 78.0,516.0 83.6,516.0" fill="#1c1c1c" stroke="none"/>
<path class="pt" d="M89.85 379.48L91.72 377.50L91.72 388.50 M102.55 377.50C99.92 377.50 99.10 380.25 99.10 383.00C99.10 385.75 99.92 388.50 102.55 388.50C105.17 388.50 106.00 385.75 106.00 383.00C106.00 380.25 105.17 377.50 102.55 377.50Z M110.60 377.50L116.75 377.50L113.38 381.90C115.85 381.68 117.20 383.22 117.20 385.20C117.20 387.29 115.85 388.50 113.75 388.50C111.80 388.50 110.60 387.51 110.30 386.08" stroke-width="1.55"/>
<g transform="translate(164.3,393.6)">
<path d="M-13.0,-18.0 L-13.8,-20.5 L-13.5,-22.0 L-13.5,-23.0 L-13.7,-24.0 L-14.0,-25.0 L-14.4,-26.0 L-14.8,-27.0 L-15.2,-28.0 L-15.5,-29.0 L-15.7,-30.0 L-15.7,-31.0 L-15.6,-32.0 L-15.4,-33.0 L-15.0,-34.0 L-14.6,-35.0 L-14.2,-36.0 L-13.8,-37.0 L-13.6,-38.0 L-13.5,-39.0 L-13.5,-40.0 L-13.7,-41.0 L-14.0,-42.0 L-14.4,-43.0 L-14.8,-44.0 L-15.2,-45.0 L-15.5,-46.0 L-15.7,-47.0 L-15.7,-48.0 L-15.6,-49.0 L-15.4,-50.0 L-15.0,-51.0 L-14.6,-52.0 L-14.2,-53.0 L-13.8,-54.0 L-13.6,-55.0 L-13.5,-56.0 L-13.5,-57.0 L-13.7,-58.0 L-14.0,-59.0 L-14.4,-60.0 L-14.8,-61.0 L-15.2,-62.0 L-15.5,-63.0 L-15.7,-64.0 L-15.7,-65.0 L-15.6,-66.0 L-15.4,-67.0 L-15.0,-68.0 L-14.6,-69.0 L-14.2,-70.0 L-13.8,-71.0 L-13.6,-72.0 L-13.5,-73.0 L-13.5,-74.0 L-13.7,-75.0 L-14.0,-76.0 L-14.4,-77.0 L-14.8,-78.0 L-15.2,-79.0 L-15.5,-80.0 L-15.7,-81.0 L-15.7,-82.0 L-15.6,-83.0 L-15.4,-84.0 L-15.0,-85.0 L-14.6,-86.0 L-14.2,-87.0 L-13.8,-88.0 L-13.6,-89.0 L-13.5,-90.0 L-13.5,-91.0 L-13.7,-92.0 L-14.0,-93.0 L-14.4,-94.0 L-14.8,-95.0 L-15.2,-96.0 L-15.5,-97.0 L-15.7,-98.0 L-15.7,-99.0 L-15.6,-100.0 L-15.4,-101.0 L-15.0,-102.0 L-14.6,-103.0 L-14.2,-104.0 L-13.8,-105.0 L-13.6,-106.0 L-13.5,-107.0 L-13.5,-108.0 L-13.7,-109.0 L-14.0,-110.0 L-14.0,-110.6 L-13.9,-112.1 L-13.7,-113.5 L-13.3,-114.9 L-12.8,-116.3 L-12.1,-117.6 L-11.3,-118.8 L-10.4,-120.0 L-9.4,-121.0 L-8.2,-121.9 L-7.0,-122.7 L-5.7,-123.4 L-4.3,-123.9 L-2.9,-124.3 L-1.5,-124.5 L0.0,-124.6 L1.5,-124.5 L2.9,-124.3 L4.3,-123.9 L5.7,-123.4 L7.0,-122.7 L8.2,-121.9 L9.4,-121.0 L10.4,-120.0 L11.3,-118.8 L12.1,-117.6 L12.8,-116.3 L13.3,-114.9 L13.7,-113.5 L13.9,-112.1 L14.0,-110.6 L15.0,-110.6 L15.3,-109.6 L15.6,-108.6 L15.7,-107.6 L15.7,-106.6 L15.5,-105.6 L15.2,-104.6 L14.9,-103.6 L14.4,-102.6 L14.0,-101.6 L13.7,-100.6 L13.5,-99.6 L13.5,-98.6 L13.6,-97.6 L13.8,-96.6 L14.1,-95.6 L14.6,-94.6 L15.0,-93.6 L15.3,-92.6 L15.6,-91.6 L15.7,-90.6 L15.7,-89.6 L15.5,-88.6 L15.2,-87.6 L14.9,-86.6 L14.4,-85.6 L14.0,-84.6 L13.7,-83.6 L13.5,-82.6 L13.5,-81.6 L13.6,-80.6 L13.8,-79.6 L14.1,-78.6 L14.6,-77.6 L15.0,-76.6 L15.3,-75.6 L15.6,-74.6 L15.7,-73.6 L15.7,-72.6 L15.5,-71.6 L15.2,-70.6 L14.9,-69.6 L14.4,-68.6 L14.0,-67.6 L13.7,-66.6 L13.5,-65.6 L13.5,-64.6 L13.6,-63.6 L13.8,-62.6 L14.1,-61.6 L14.6,-60.6 L15.0,-59.6 L15.3,-58.6 L15.6,-57.6 L15.7,-56.6 L15.7,-55.6 L15.5,-54.6 L15.2,-53.6 L14.9,-52.6 L14.4,-51.6 L14.0,-50.6 L13.7,-49.6 L13.5,-48.6 L13.5,-47.6 L13.6,-46.6 L13.8,-45.6 L14.1,-44.6 L14.6,-43.6 L15.0,-42.6 L15.3,-41.6 L15.6,-40.6 L15.7,-39.6 L15.7,-38.6 L15.5,-37.6 L15.2,-36.6 L14.9,-35.6 L14.4,-34.6 L14.0,-33.6 L13.7,-32.6 L13.5,-31.6 L13.5,-30.6 L13.6,-29.6 L13.8,-28.6 L14.1,-27.6 L14.6,-26.6 L15.0,-25.6 L15.3,-24.6 L15.6,-23.6 L15.7,-22.6 L13.8,-20.5 L13.0,-18.0 Z" stroke-width="2.0" fill="none" />
</g>
<path d="M153.8,376.0 C150.8,378.0 150.1,381.0 150.1,385.0 L150.1,399.0 C150.1,404.0 139.9,404.0 139.9,411.0 L139.9,468.0 C139.9,474.0 149.3,474.0 151.1,478.4" stroke-width="1.7" fill="none" />
<path d="M174.8,376.0 C177.8,378.0 178.5,381.0 178.5,385.0 L178.5,399.0 C178.5,404.0 188.7,404.0 188.7,411.0 L188.7,468.0 C188.7,474.0 179.3,474.0 177.5,478.4" stroke-width="1.7" fill="none" />
<path d="M157.8,377.5 C155.0,379.5 154.6,382.0 154.6,385.0 L154.6,401.0 C154.6,407.0 144.9,407.0 144.9,414.0 L144.9,466.0 C144.9,471.0 151.3,471.0 152.8,473.0" stroke-width="1.5" fill="none" />
<path d="M170.8,377.5 C173.6,379.5 174.0,382.0 174.0,385.0 L174.0,401.0 C174.0,407.0 183.7,407.0 183.7,414.0 L183.7,466.0 C183.7,471.0 177.3,471.0 175.8,473.0" stroke-width="1.5" fill="none" />
<path d="M158.3,412 L158.3,384 L164.3,377 L170.3,384 L170.3,412" stroke-width="1.5" fill="none" />
<line x1="158.3" y1="384.0" x2="170.3" y2="384.0" stroke-width="1.2" />
<line x1="164.3" y1="384.0" x2="164.3" y2="412.0" stroke-width="1.1" />
<path d="M150.10000000000002,388 Q147.10000000000002,392.5 150.10000000000002,397" stroke-width="1.8" fill="none" />
<path d="M178.5,388 Q181.5,392.5 178.5,397" stroke-width="1.8" fill="none" />
<rect x="150.1" y="413.5" width="28.4" height="56.2" rx="0" stroke-width="1.9" fill="none"/>
<rect x="154.3" y="414.5" width="5" height="21" fill="#1c1c1c" stroke="none"/>
<rect x="168.8" y="414.5" width="5" height="21" fill="#1c1c1c" stroke="none"/>
<line x1="152.3" y1="414.5" x2="152.3" y2="436.0" stroke-width="1.0" />
<line x1="176.3" y1="414.5" x2="176.3" y2="436.0" stroke-width="1.0" />
<rect x="159.7" y="415.0" width="9.2" height="19.5" rx="0" stroke-width="1.6" fill="none"/>
<rect x="153.3" y="436.8" width="10.6" height="6.8" rx="1.5" stroke-width="1.8" fill="none"/>
<rect x="164.1" y="436.8" width="10.8" height="6.8" rx="1.5" stroke-width="1.8" fill="none"/>
<rect x="151.3" y="445.0" width="26.0" height="22.6" rx="0" stroke-width="1.9" fill="none"/>
<rect x="152.9" y="470.8" width="11.0" height="6.8" rx="1.5" stroke-width="1.7" fill="none"/>
<rect x="164.1" y="470.8" width="11.2" height="6.8" rx="1.5" stroke-width="1.7" fill="none"/>
<path d="M157.9,478.8 L150.70000000000002,478.8 L150.70000000000002,500.5 L157.9,500.5 M171.5,478.8 L177.9,478.8 L177.9,500.5 L170.70000000000002,500.5" stroke-width="1.6" fill="none" />
<line x1="157.9" y1="478.6" x2="157.9" y2="504.0" stroke-width="2.2" />
<line x1="168.7" y1="478.6" x2="168.7" y2="504.0" stroke-width="2.2" />
<line x1="171.5" y1="478.6" x2="171.5" y2="500.5" stroke-width="1.3" />
<path d="M150.70000000000002,484 Q147.3,489 150.70000000000002,494" stroke-width="1.8" fill="none" />
<path d="M177.9,484 Q181.3,489 177.9,494" stroke-width="1.8" fill="none" />
<path d="M153.3,522.2 L112,522.2 L112,530.2 L151.3,530.2 Q157.3,529.6 158.70000000000002,525.5" stroke-width="1.7" fill="none" />
<path d="M175.3,522.2 L215.5,522.2 L215.5,530.2 L177.3,530.2 Q171.3,529.6 169.9,525.5" stroke-width="1.7" fill="none" />
<path d="M154.10000000000002,504.4 L174.5,504.4 Q176.3,504.4 176.5,506.4 L177.9,520.6 Q178.10000000000002,525.2 173.9,525.2 L154.70000000000002,525.2 Q150.5,525.2 150.70000000000002,520.6 L152.10000000000002,506.4 Q152.3,504.4 154.10000000000002,504.4 Z" stroke-width="1.8" fill="#fff"/>
<line x1="112.0" y1="543.0" x2="112.0" y2="583.0" stroke-width="1.2" />
<line x1="214.8" y1="543.0" x2="214.8" y2="583.0" stroke-width="1.2" />
<line x1="112.0" y1="569.6" x2="214.8" y2="569.6" stroke-width="1.1" />
<polygon points="112.0,569.6 124.0,566.9 124.0,572.3" fill="#1c1c1c" stroke="none"/>
<polygon points="214.8,569.6 202.8,572.3 202.8,566.9" fill="#1c1c1c" stroke="none"/>
<path class="pt" d="M151.81 553.60L158.04 553.60L154.62 557.80C157.13 557.59 158.50 559.06 158.50 560.95C158.50 562.95 157.13 564.10 155.00 564.10C153.02 564.10 151.81 563.15 151.50 561.79 M167.62 564.10L167.62 553.60L162.23 561.16L169.45 561.16" stroke-width="1.55"/>
</g>
<path class="pt" d="M523.30 341.18C521.45 341.18 520.49 340.25 520.49 338.79C520.49 337.34 521.60 336.40 523.30 336.40C525.00 336.40 526.11 337.34 526.11 338.79C526.11 340.25 525.15 341.18 523.30 341.18C521.08 341.18 519.90 342.33 519.90 343.99C519.90 345.76 521.08 346.80 523.30 346.80C525.52 346.80 526.70 345.76 526.70 343.99C526.70 342.33 525.52 341.18 523.30 341.18Z M536.61 336.40L536.61 346.80M536.61 343.47C536.61 341.39 535.43 340.14 533.80 340.14C531.88 340.14 530.69 341.39 530.69 343.47C530.69 345.55 531.88 346.80 533.80 346.80C535.43 346.80 536.61 345.55 536.61 343.47 M546.67 341.60L546.67 346.80M546.67 344.20C546.67 342.64 545.63 341.60 544.30 341.60C542.82 341.60 541.93 342.64 541.93 344.20C541.93 345.76 542.82 346.80 544.30 346.80C545.63 346.80 546.67 345.76 546.67 344.20 M551.69 346.80L551.69 336.40L557.91 346.80L557.91 336.40" stroke-width="2.0"/>
<path class="pt" d="M352.91 586.20L352.91 596.60M352.91 593.27C352.91 591.19 351.73 589.94 350.10 589.94C348.18 589.94 346.99 591.19 346.99 593.27C346.99 595.35 348.18 596.60 350.10 596.60C351.73 596.60 352.91 595.35 352.91 593.27 M362.57 591.40L362.57 596.60M362.57 594.00C362.57 592.44 361.53 591.40 360.20 591.40C358.72 591.40 357.83 592.44 357.83 594.00C357.83 595.56 358.72 596.60 360.20 596.60C361.53 596.60 362.57 595.56 362.57 594.00 M367.19 596.60L367.19 586.20L373.41 596.60L373.41 586.20" stroke-width="2.0"/>
<path class="pt" d="M357.35 571.50C356.72 570.73 355.77 570.40 354.82 570.40C351.98 570.40 350.79 573.04 350.79 576.45C350.79 579.53 351.98 581.40 354.35 581.40C356.56 581.40 357.98 579.97 357.98 577.88C357.98 575.79 356.56 574.47 354.51 574.47C352.61 574.47 351.35 575.46 350.79 577.00 M368.75 570.40L363.06 570.40L362.59 575.35C363.70 574.58 364.80 574.25 365.91 574.25C368.12 574.25 369.38 575.68 369.38 577.77C369.38 579.97 367.96 581.40 365.75 581.40C363.77 581.40 362.51 580.41 362.12 579.09" stroke-width="1.7"/>
</svg>
<div class="note" style="left:542px;top:231.5px;">Arm opens through:<br>pin in place = 95°<br>pin removed = 185°</div>
<div class="note" style="left:573px;top:319px;">Handle opens through:<br>pin in place = 65°<br>pin removed = 105°</div>
<div class="note" style="left:578px;top:518px;">Stop pin</div>
<div class="note" style="left:346px;top:332px;width:30px;text-align:center;font-size:15.5px;line-height:18.6px;">100<br>daN</div>
</body></html>
